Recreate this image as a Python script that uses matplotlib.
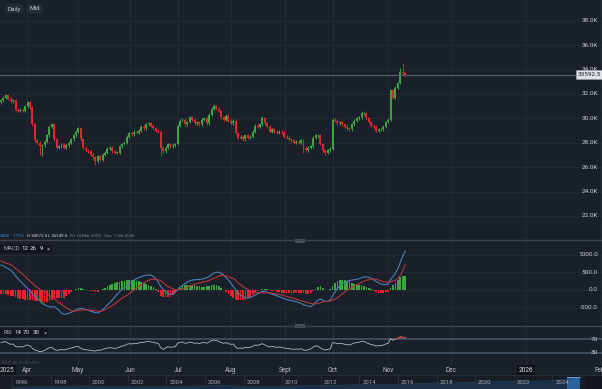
import numpy as np
import matplotlib
matplotlib.use('Agg')
import matplotlib.pyplot as plt
from matplotlib.transforms import blended_transform_factory
from matplotlib.patches import Rectangle
from matplotlib.lines import Line2D

plt.rcParams['font.family'] = ['Roboto', 'DejaVu Sans']

W, H = 602, 389
BG = '#1a2029'
GRID = '#232a34'
TXT = '#c8ccd2'
UP = '#3aa83c'
DOWN = '#e0262a'

# daily closes, thousands (14 Mar 2025 .. 7 Nov 2025)
closes_k = [
    31.5, 31.7, 31.9, 31.6, 31.4, 31.5, 30.7, 30.6, 30.7, 30.6,
    31.0, 31.3, 30.9, 29.5, 28.2, 28.0, 27.7, 27.8, 28.1, 28.6,
    29.3, 29.5, 28.3, 27.6, 27.7, 27.9, 27.6, 27.8, 28.0, 28.3,
    28.6, 28.9, 29.2, 28.3, 27.6, 27.4, 27.3, 27.0, 26.8, 26.5,
    26.9, 26.6, 27.0, 27.2, 27.5, 27.6, 27.3, 27.2, 27.2, 27.7,
    27.9, 28.0, 28.5, 28.8, 28.7, 28.9, 28.8, 29.0, 29.3, 29.2,
    29.5, 29.6, 29.4, 29.2, 29.0, 28.9, 27.6, 27.3, 27.6, 27.9,
    27.7, 27.8, 27.9, 29.4, 29.8, 29.9, 29.5, 29.7, 30.1, 29.9,
    29.6, 29.7, 29.5, 29.9, 30.0, 29.6, 30.3, 30.8, 31.0, 30.8,
    30.6, 30.1, 29.9, 30.2, 29.8, 29.6, 29.8, 28.8, 28.4, 28.5,
    28.3, 28.6, 28.4, 28.5, 28.9, 29.4, 29.3, 29.5, 30.0, 29.6,
    29.3, 28.9, 29.1, 28.9, 28.8, 28.9, 28.85, 28.5, 28.4, 28.3,
    28.2, 28.0, 28.1, 28.0, 28.2, 27.6, 27.4, 27.6, 27.7, 28.4,
    28.6, 28.6, 27.9, 27.4, 27.2, 27.4, 27.5, 29.9, 29.8, 29.6,
    29.7, 29.5, 29.3, 29.2, 29.1, 29.5, 29.8, 30.0, 30.1, 30.4,
    30.4, 30.0, 29.7, 29.4, 29.3, 29.0, 29.1, 29.1, 29.3, 29.7,
    29.9, 32.3, 31.7, 32.5, 32.9, 33.8, 33.7, 33.5925,
]
first_open_k = 31.3
wick_k = 0.12
high_marks = {2: 31.95, 88: 31.2, 108: 30.2, 149: 30.6, 165: 34.1, 166: 34.5725}
low_marks = {16: 27.0, 17: 26.9, 39: 26.1495, 66: 26.9, 125: 27.2, 134: 27.0}

macd = [
    706, 680, 640, 600, 560, 490, 400, 320, 250, 180,
    110, 40, -20, -100, -170, -240, -300, -370, -420, -450,
    -470, -480, -470, -520, -580, -650, -690, -680, -660, -630,
    -600, -560, -530, -520, -530, -550, -570, -600, -620, -640,
    -650, -610, -560, -490, -420, -350, -280, -200, -120, -50,
    20, 70, 120, 180, 230, 280, 320, 350, 380, 400,
    420, 425, 420, 380, 320, 220, 100, 20, -50, -100,
    -130, -110, -60, 10, 80, 130, 180, 220, 260, 280,
    290, 295, 300, 310, 320, 350, 380, 430, 480, 500,
    500, 470, 420, 350, 280, 190, 100, 10, -80, -140,
    -190, -220, -230, -210, -180, -150, -110, -70, -40, -40,
    -60, -90, -120, -140, -160, -190, -220, -250, -270, -285,
    -300, -315, -330, -355, -380, -410, -440, -460, -470, -420,
    -350, -290, -250, -290, -320, -330, -280, -170, -60, 40,
    120, 180, 220, 250, 270, 280, 290, 305, 320, 345,
    370, 370, 360, 330, 290, 245, 200, 170, 150, 155,
    170, 300, 380, 480, 600, 780, 950, 1100,
]
signal = [
    820, 790, 760, 740, 720, 670, 610, 560, 500, 440,
    380, 310, 250, 190, 130, 70, 20, -20, -60, -100,
    -150, -200, -250, -300, -360, -410, -460, -500, -540, -580,
    -600, -590, -580, -570, -560, -560, -565, -570, -580, -590,
    -600, -600, -590, -560, -520, -480, -440, -390, -340, -285,
    -230, -190, -150, -100, -50, 5, 60, 110, 160, 200,
    240, 275, 300, 305, 300, 285, 260, 210, 150, 100,
    60, 30, 10, 5, 10, 30, 50, 80, 110, 135,
    160, 180, 200, 215, 230, 250, 270, 300, 330, 360,
    390, 405, 410, 400, 380, 350, 320, 280, 200, 150,
    90, 50, 10, -20, -50, -70, -80, -80, -80, -80,
    -80, -85, -90, -100, -110, -125, -140, -160, -180, -200,
    -220, -240, -260, -280, -300, -320, -340, -360, -380, -390,
    -390, -375, -360, -340, -320, -320, -310, -290, -260, -220,
    -170, -110, -60, -10, 30, 70, 110, 145, 180, 215,
    250, 275, 290, 305, 310, 300, 280, 260, 230, 225,
    220, 230, 250, 280, 330, 420, 550, 706,
]
rsi = [
    60, 62, 63, 58, 55, 56, 48, 47, 48, 47,
    51, 53, 50, 43, 38, 36, 33, 34, 37, 41,
    45, 46, 40, 37, 38, 40, 38, 40, 42, 44,
    46, 48, 49, 43, 40, 39, 38, 37, 36, 35,
    38, 37, 40, 42, 44, 45, 44, 43, 44, 47,
    50, 51, 55, 57, 56, 58, 57, 59, 61, 60,
    63, 64, 62, 61, 59, 58, 45, 40, 44, 48,
    46, 47, 48, 58, 61, 62, 58, 59, 62, 60,
    58, 59, 57, 60, 61, 58, 62, 66, 68, 66,
    64, 60, 58, 60, 57, 55, 56, 46, 43, 44,
    43, 46, 45, 46, 49, 53, 52, 54, 57, 53,
    50, 47, 49, 47, 46, 47, 46, 44, 43, 42,
    41, 40, 41, 40, 42, 38, 37, 39, 41, 47,
    50, 50, 44, 40, 38, 40, 41, 60, 59, 57,
    58, 57, 55, 54, 53, 56, 59, 60, 61, 64,
    64, 60, 57, 54, 53, 50, 51, 51, 53, 56,
    58, 72, 67, 71, 73, 77, 76, 74,
]

price_levels_k = [22, 24, 26, 28, 30, 32, 34, 36, 38]
macd_levels = [-500, 0, 500, 1000]
date_labels = ['2025', 'Apr', 'May', 'Jun', 'Jul', 'Aug', 'Sept', 'Oct', 'Nov', 'Dec', '2026', 'Feb']
date_pos = [2.3, 10.7, 31.8, 53.3, 73.1, 95.0, 117.4, 137.2, 159.9, 186.0, 217.0, 247.5]

nav_years = list(range(1996, 2026))
nav_values = [5.5, 6.5, 7.5, 9, 10, 8, 7, 6.5, 8, 9,
              10, 11, 8, 7, 9, 10, 11, 12, 14, 15,
              14, 17, 19, 20, 22, 24, 25, 24, 28, 31]
nav_window = (2024.76, 2025.43)

# ---------------------------------------------------------------
closes = np.array(closes_k) * 1000
opens = np.concatenate([[first_open_k * 1000], closes[:-1]])
highs = np.maximum(opens, closes) + wick_k * 1000
lows = np.minimum(opens, closes) - wick_k * 1000
for k, v in high_marks.items():
    highs[k] = v * 1000
for k, v in low_marks.items():
    lows[k] = v * 1000
idx = np.arange(len(closes))
macd = np.array(macd, float)
signal = np.array(signal, float)
hist = macd - signal
rsi = np.array(rsi, float)

XL = (-0.413, 248.35)

fig = plt.figure(figsize=(W / 100, H / 100), dpi=100, facecolor=BG)


def rect(top, bottom):
    return [0, 1 - bottom / H, 1, (bottom - top) / H]


def ftxt(x, y, s, **kw):
    fig.text(x / W, 1 - y / H, s, **kw)


def hline(y, color, lw):
    fig.add_artist(Line2D([0, 1], [1 - y / H] * 2, color=color, lw=lw,
                          transform=fig.transFigure))


def blank(ax):
    ax.set_facecolor(BG)
    for s in ax.spines.values():
        s.set_visible(False)
    ax.set_xticks([])
    ax.set_yticks([])
    ax.set_xlim(*XL)


# price panel
ax1 = fig.add_axes(rect(0, 240))
blank(ax1)
ax1.set_ylim(20030, 39700)
for v in price_levels_k:
    ax1.axhline(v * 1000, color=GRID, lw=0.7, zorder=0)
for p in date_pos[1:]:
    ax1.axvline(p, color=GRID, lw=0.7, zorder=0)
cols = np.where(closes >= opens, UP, DOWN)
ax1.vlines(idx, lows, highs, colors=cols, lw=0.7, zorder=2)
body = np.maximum(np.abs(closes - opens), 50)
ax1.bar(idx, body, bottom=np.minimum(opens, closes), width=0.82,
        color=cols, lw=0, zorder=3)
tr1 = blended_transform_factory(ax1.transAxes, ax1.transData)
for v in price_levels_k:
    ax1.text(0.993, v * 1000, f'{v:.1f}K', transform=tr1, ha='right',
             va='center', fontsize=4.6, color=TXT)
ax1.axhline(closes[-1], color='#555c67', lw=0.9, zorder=4)
ax1.text(0.998, closes[-1], f'{closes[-1]:.1f}', transform=tr1, ha='right',
         va='center', fontsize=4.6, color='#1a2029', zorder=6,
         bbox=dict(boxstyle='square,pad=0.25', fc='#dfe2e6', ec='#9aa0a8', lw=0.4))

ftxt(8, 9, 'Daily', fontsize=4.5, color='#c0c4ca', va='center',
     bbox=dict(boxstyle='round,pad=0.35', fc='#262c36', ec='none'))
ftxt(30, 9, 'Mid', fontsize=4.5, color='#c0c4ca', va='center',
     bbox=dict(boxstyle='round,pad=0.35', fc='#262c36', ec='none'))

ftxt(0, 236, '2428', fontsize=3.2, color='#3d8fd8', va='center')
ftxt(12.5, 236, '7.79%', fontsize=3.2, color='#3d8fd8', va='center')
ftxt(27, 236, f'H {highs.max():.1f}', fontsize=3.2, color='#d8dbe0', va='center')
ftxt(48.5, 236, f'L {lows.min():.1f}', fontsize=3.2, color='#d8dbe0', va='center')
ftxt(70, 236, 'Fri 14 Mar 2025 - Sun 1 Feb 2026', fontsize=3.2, color='#7d848e', va='center')

# MACD panel
ax2 = fig.add_axes(rect(240, 326))
blank(ax2)
ax2.set_ylim(-1017, 1412)
for v in macd_levels:
    ax2.axhline(v, color=GRID, lw=0.7, zorder=0)
for p in date_pos[1:]:
    ax2.axvline(p, color=GRID, lw=0.7, zorder=0)
ax2.bar(idx, hist, width=0.72, color=np.where(hist >= 0, UP, DOWN), lw=0, zorder=2)
ax2.plot(idx, macd, color='#4a80b6', lw=0.8, zorder=3)
ax2.plot(idx, signal, color='#b8343b', lw=0.8, zorder=3)
tr2 = blended_transform_factory(ax2.transAxes, ax2.transData)
for v in macd_levels:
    ax2.text(0.993, v, f'{v:.1f}', transform=tr2, ha='right', va='center',
             fontsize=4.6, color=TXT)
fig.add_artist(Rectangle((0, 1 - 253 / H), 52 / W, 8 / H, transform=fig.transFigure,
                         fc='#12161c', ec='none'))
ftxt(3, 249, 'MACD', fontsize=4.2, color='#aab0b8', va='center')
ftxt(21, 249, '12', fontsize=4.4, color='#e4e6ea', va='center')
ftxt(30, 249, '26', fontsize=4.4, color='#e4e6ea', va='center')
ftxt(40, 249, '9', fontsize=4.4, color='#e4e6ea', va='center')
ftxt(47, 249, '×', fontsize=4.4, color='#aab0b8', va='center')

# RSI panel
ax3 = fig.add_axes(rect(326, 365))
blank(ax3)
ax3.set_ylim(-6.7, 109.7)
for p in date_pos[1:]:
    ax3.axvline(p, color=GRID, lw=0.7, zorder=0)
ax3.axhline(70, color='#44576b', lw=1.1, zorder=1)
ax3.axhline(30, color='#44576b', lw=1.1, zorder=1)
ax3.plot(idx, rsi, color='#b4b8be', lw=0.6, zorder=3)
hot = np.where(rsi >= 70, rsi, np.nan)
ax3.plot(idx, hot, color='#d8383c', lw=0.8, zorder=4)
tr3 = blended_transform_factory(ax3.transAxes, ax3.transData)
for v in (70, 30):
    ax3.text(0.993, v, str(v), transform=tr3, ha='right', va='center',
             fontsize=4.6, color=TXT)
fig.add_artist(Rectangle((0, 1 - 337 / H), 48 / W, 8 / H, transform=fig.transFigure,
                         fc='#12161c', ec='none'))
ftxt(3, 333, 'RSI', fontsize=4.2, color='#aab0b8', va='center')
ftxt(14, 333, '14', fontsize=4.4, color='#e4e6ea', va='center')
ftxt(23, 333, '70', fontsize=4.4, color='#e4e6ea', va='center')
ftxt(33, 333, '30', fontsize=4.4, color='#e4e6ea', va='center')
ftxt(44, 333, '×', fontsize=4.4, color='#aab0b8', va='center')
ftxt(1, 362, 'Add an indicator', fontsize=3.8, color='#3e4651', va='center')

# date row
ax4 = fig.add_axes(rect(365, 375))
blank(ax4)
ax4.set_ylim(0, 1)
for lab, p in zip(date_labels, date_pos):
    boxed = lab.isdigit()
    ax4.text(p, 0.5, lab, ha='center', va='center', fontsize=4.7,
             color='#d6d9de' if boxed else '#b8bcc3',
             bbox=dict(boxstyle='square,pad=0.3', fc='#0f1318', ec='none') if boxed else None)

# navigator
ax5 = fig.add_axes(rect(375, 389))
ax5.set_facecolor('#181d25')
for s in ax5.spines.values():
    s.set_visible(False)
ax5.set_xticks([])
ax5.set_yticks([])
ax5.set_xlim(1995.38, 2026.57)
ax5.set_ylim(0, 45)
ax5.fill_between(nav_years, nav_values, color='#1b3049', lw=0)
ax5.plot(nav_years, nav_values, color='#23425f', lw=0.5)
ax5.axvspan(*nav_window, ymin=0, ymax=0.86, color='#2a6299', lw=0)
ax5.plot(nav_window, [38.7, 38.7], color='#5a9ad6', lw=0.7)
for y in range(1996, 2025, 2):
    ax5.axvline(y, color='#2b323c', lw=0.6)
    ax5.text(y + 0.15, 20, str(y), fontsize=4.3, color='#a3a9b2', va='center')
ax5.axvspan(2025.75, 2026.57, color='#12161c', lw=0)

hline(240.5, '#3d444e', 1.0)
hline(326, '#3d444e', 1.0)
hline(375, '#2b323c', 0.6)
for yy in (240.5, 326):
    fig.add_artist(Rectangle((295 / W, 1 - (yy + 2) / H), 10 / W, 4 / H,
                             transform=fig.transFigure, fc='#4a515b', ec='none'))

fig.savefig('out.png', dpi=100, facecolor=BG)
